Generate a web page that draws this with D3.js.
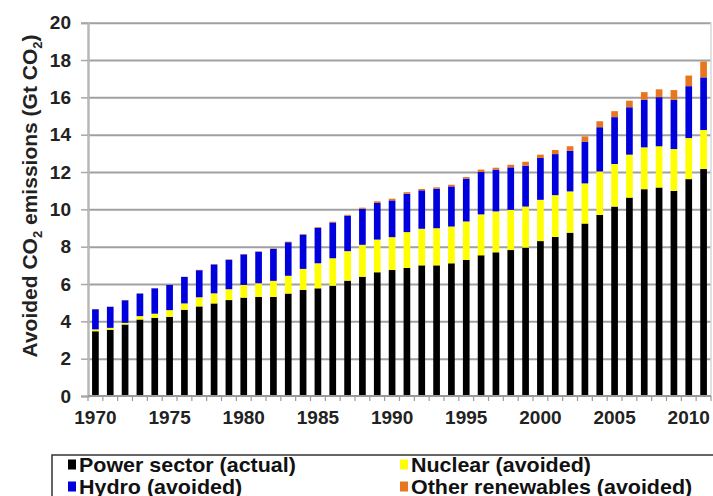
<!DOCTYPE html>
<html><head><meta charset="utf-8">
<script src="https://cdn.jsdelivr.net/npm/d3@7"></script>
<style>
body{margin:0;background:#fff;}
svg{display:block;font-family:"Liberation Sans",Arial,sans-serif;}
</style></head>
<body><svg id="chart" width="713" height="496"></svg>
<script>
const years = [1970,1971,1972,1973,1974,1975,1976,1977,1978,1979,1980,1981,1982,1983,1984,1985,1986,1987,1988,1989,1990,1991,1992,1993,1994,1995,1996,1997,1998,1999,2000,2001,2002,2003,2004,2005,2006,2007,2008,2009,2010,2011];
const powerSector = [3.47,3.55,3.83,4.10,4.19,4.24,4.62,4.80,4.96,5.14,5.27,5.31,5.31,5.49,5.68,5.77,5.91,6.18,6.39,6.63,6.75,6.86,7.00,7.00,7.11,7.29,7.54,7.70,7.82,7.95,8.30,8.52,8.75,9.24,9.70,10.15,10.63,11.08,11.17,10.99,11.62,12.16];
const nuclear = [0.10,0.10,0.09,0.18,0.22,0.36,0.34,0.49,0.54,0.58,0.68,0.73,0.86,0.95,1.13,1.34,1.47,1.58,1.71,1.75,1.76,1.92,1.96,1.99,1.97,2.06,2.19,2.19,2.15,2.20,2.21,2.24,2.21,2.15,2.33,2.28,2.30,2.24,2.21,2.24,2.20,2.09];
const hydro = [1.08,1.13,1.21,1.21,1.36,1.35,1.42,1.45,1.55,1.58,1.64,1.69,1.71,1.80,1.84,1.90,1.92,1.90,1.93,1.96,1.97,2.06,2.06,2.12,2.15,2.30,2.27,2.24,2.28,2.19,2.24,2.20,2.18,2.24,2.37,2.51,2.54,2.55,2.63,2.64,2.78,2.82];
const otherRenewables = [0.01,0.01,0.01,0.01,0.01,0.01,0.01,0.02,0.02,0.02,0.02,0.02,0.03,0.03,0.03,0.04,0.04,0.05,0.06,0.09,0.09,0.08,0.07,0.07,0.09,0.08,0.13,0.10,0.14,0.21,0.18,0.22,0.24,0.28,0.32,0.32,0.35,0.41,0.42,0.52,0.57,0.85];
const seriesNames = ["Power sector (actual)","Nuclear (avoided)","Hydro (avoided)","Other renewables (avoided)"];
const seriesColors = ["#000000","#ffff00","#0000dc","#e8761e"];
const xTickLabels = [1970,1975,1980,1985,1990,1995,2000,2005,2010];
const yTicks = [0,2,4,6,8,10,12,14,16,18,20];

const keys = ["power","nuclear","hydro","other"];
const table = years.map((yr,i)=>({year:yr,power:powerSector[i],nuclear:nuclear[i],hydro:hydro[i],other:otherRenewables[i]}));

const svg = d3.select("#chart");
const L=88, R=711, T=22.7, B=396;
const x = d3.scaleBand().domain(years).range([L,R]).paddingInner(0.55).paddingOuter(0.275);
const y = d3.scaleLinear().domain([0,20]).range([B,T]);

// gridlines
svg.append("g").attr("transform",`translate(${L},0)`)
  .call(d3.axisLeft(y).tickValues(yTicks.filter(v=>v>0)).tickSize(-(R-L)).tickFormat(""))
  .call(g=>g.select(".domain").remove())
  .call(g=>g.selectAll("line").attr("stroke","#a0a0a0").attr("stroke-width",2));
// right border
svg.append("line").attr("x1",R).attr("x2",R).attr("y1",y(20)).attr("y2",B).attr("stroke","#d8d8d8").attr("stroke-width",1.5);

// y axis
svg.append("g").attr("transform",`translate(${L},0)`)
  .call(d3.axisLeft(y).tickValues(yTicks).tickSize(7).tickPadding(10))
  .call(g=>g.select(".domain").attr("stroke","#b8b8b8").attr("stroke-width",2.5))
  .call(g=>g.selectAll("line").attr("stroke","#a8a8a8").attr("stroke-width",1.5))
  .call(g=>g.selectAll("text").attr("font-size",19).attr("font-weight","bold").attr("fill","#222"));

// bars
const stacked = d3.stack().keys(keys)(table);
svg.append("g").selectAll("g").data(stacked).join("g")
  .attr("fill",(d,i)=>seriesColors[i])
  .selectAll("rect").data(d=>d).join("rect")
  .attr("x",d=>x(d.data.year)).attr("width",x.bandwidth())
  .attr("y",d=>y(d[1])).attr("height",d=>Math.max(0,y(d[0])-y(d[1])));

// x axis line
svg.append("line").attr("x1",L).attr("x2",R).attr("y1",B).attr("y2",B).attr("stroke","#999").attr("stroke-width",2);
// minor ticks at category boundaries
const gap = x.step()-x.bandwidth();
const bounds = years.map(yr=>x(yr)-gap/2).concat([x(years[years.length-1])+x.bandwidth()+gap/2]);
svg.append("g").selectAll("line").data(bounds).join("line")
  .attr("x1",d=>d).attr("x2",d=>d).attr("y1",B).attr("y2",B+5)
  .attr("stroke","#999").attr("stroke-width",1.2);
// x labels
svg.append("g").attr("transform",`translate(0,${B})`)
  .call(d3.axisBottom(x).tickValues(xTickLabels).tickSize(0).tickPadding(15))
  .call(g=>g.select(".domain").remove())
  .call(g=>g.selectAll("text").attr("font-size",19).attr("font-weight","bold").attr("fill","#222"));

// y title
const yt = svg.append("text").attr("transform","translate(37,196) rotate(-90)")
  .attr("text-anchor","middle").attr("font-size",21).attr("font-weight","bold").attr("fill","#222");
yt.append("tspan").text("Avoided CO");
yt.append("tspan").attr("font-size",13).attr("dy",5).text("2");
yt.append("tspan").attr("dy",-5).text(" emissions (Gt CO");
yt.append("tspan").attr("font-size",13).attr("dy",5).text("2");
yt.append("tspan").attr("dy",-5).text(")");

// legend
svg.append("rect").attr("x",52).attr("y",455).attr("width",700).attr("height",60)
  .attr("fill","#fff").attr("stroke","#333").attr("stroke-width",1.5);
const legPos = [[68,471.5],[400,471.5],[68,493.5],[400,493.5]];
const leg = svg.append("g").selectAll("g").data(seriesNames).join("g")
  .attr("transform",(d,i)=>`translate(${legPos[i][0]},${legPos[i][1]})`);
leg.append("rect").attr("x",0).attr("y",-12).attr("width",8).attr("height",10).attr("fill",(d,i)=>seriesColors[i]);
leg.append("g").attr("transform","translate(11,0) scale(1.1,1)")
  .append("text").attr("font-size",19.5).attr("font-weight","bold").attr("fill","#111").text(d=>d);
</script></body></html>
